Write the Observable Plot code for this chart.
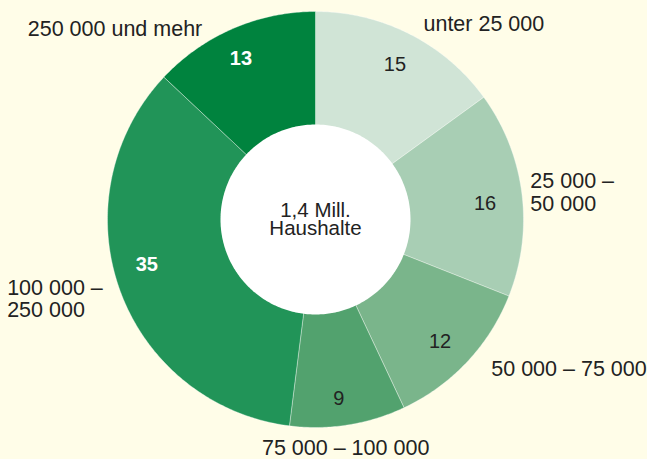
<!DOCTYPE html>
<html>
<head>
<meta charset="utf-8">
<script src="https://cdn.jsdelivr.net/npm/d3@7"></script>
<script src="https://cdn.jsdelivr.net/npm/@observablehq/plot@0.6"></script>
<style>
  html, body { margin: 0; padding: 0; background: #fffde8; }
  #chart svg { display: block; }
</style>
</head>
<body>
<div id="chart"></div>
<script>
// Data
const categories = ["unter 25 000", "25 000 –\n50 000", "50 000 – 75 000", "75 000 – 100 000", "100 000 –\n250 000", "250 000 und mehr"];
const shares = [15, 16, 12, 9, 35, 13];
const centerLines = ["1,4 Mill.", "Haushalte"];

// Styles
const colors = ["#d0e4d6", "#a8ceb4", "#7ab58b", "#52a26e", "#219458", "#00833e"];
const valueColors = ["#222", "#222", "#222", "#222", "#fff", "#fff"];
const valueWeights = ["normal", "normal", "normal", "normal", "bold", "bold"];
// value label nudges (px)
const valueDx = [0, -4, -3, -4, -4, -5];
const valueDy = [1, 6, 2, 6, -14, 0];
// category label layout tweaks (anchor, dx, dy in px)
const labelAnchor = ["start", "start", "start", "middle", "start", "end"];
const labelDx = [6, -8, 12, -5, -97, -24];
const labelDy = [5, 1, -4, 7, 3, 16];

const W = 647, H = 459, CX = 315, CY = 219, R = 208;
const innerR = 95 / R;
const labelR = 175 / R;
const outerLabelR = 1.08;

const pie = d3.pie().sort(null).value(d => d)(shares);
const slices = pie.map((p, i) => ({i, a0: p.startAngle, a1: p.endAngle, mid: (p.startAngle + p.endAngle) / 2}));

// polygon points for wedges
const wedgePts = [];
for (const s of slices) {
  wedgePts.push({i: s.i, x: 0, y: 0});
  const n = Math.max(2, Math.ceil((s.a1 - s.a0) / 0.01));
  for (let k = 0; k <= n; k++) {
    const a = s.a0 + (s.a1 - s.a0) * k / n;
    wedgePts.push({i: s.i, x: Math.sin(a), y: Math.cos(a)});
  }
  wedgePts.push({i: s.i, x: 0, y: 0});
}
const holePts = d3.range(0, 361).map(k => {
  const a = k * Math.PI / 180;
  return {x: innerR * Math.sin(a), y: innerR * Math.cos(a)};
});

const valueLabels = slices.map(s => ({
  i: s.i, x: labelR * Math.sin(s.mid), y: labelR * Math.cos(s.mid), text: String(shares[s.i])
}));
const catLabels = slices.map(s => ({
  i: s.i, x: outerLabelR * Math.sin(s.mid), y: outerLabelR * Math.cos(s.mid), text: categories[s.i]
}));

const font = "'Liberation Sans', Arial, Helvetica, sans-serif";

const marks = [
  Plot.line(wedgePts, {x: "x", y: "y", z: "i", fill: d => colors[d.i], stroke: "#ffffff", strokeOpacity: 0.45, strokeWidth: 0.8, curve: "linear"}),
  Plot.line(holePts, {x: "x", y: "y", fill: "#ffffff", stroke: "none"}),
  Plot.text([centerLines[0]], {x: () => 0, y: () => 0, text: d => d, fontSize: 20.5, dy: -9, fill: "#222", fontFamily: font}),
  Plot.text([centerLines[1]], {x: () => 0, y: () => 0, text: d => d, fontSize: 20.5, dy: 9, fill: "#222", fontFamily: font})
];
for (const d of valueLabels) {
  marks.push(Plot.text([d], {x: "x", y: "y", text: "text", fontSize: 20, fill: valueColors[d.i], fontWeight: valueWeights[d.i], fontFamily: font,
    dx: valueDx[d.i], dy: valueDy[d.i]}));
}
for (const d of catLabels) {
  marks.push(Plot.text([d], {x: "x", y: "y", text: "text", fontSize: 21.5, lineHeight: 1.03, fill: "#222", fontFamily: font,
    textAnchor: labelAnchor[d.i], dx: labelDx[d.i], dy: labelDy[d.i]}));
}

const chart = Plot.plot({
  width: W, height: H,
  margin: 0,
  style: {background: "#fffde8", overflow: "visible"},
  x: {domain: [-CX / R, (W - CX) / R], range: [0, W], axis: null},
  y: {domain: [-(H - CY) / R, CY / R], range: [H, 0], axis: null},
  marks
});
document.getElementById("chart").appendChild(chart);
</script>
</body>
</html>
